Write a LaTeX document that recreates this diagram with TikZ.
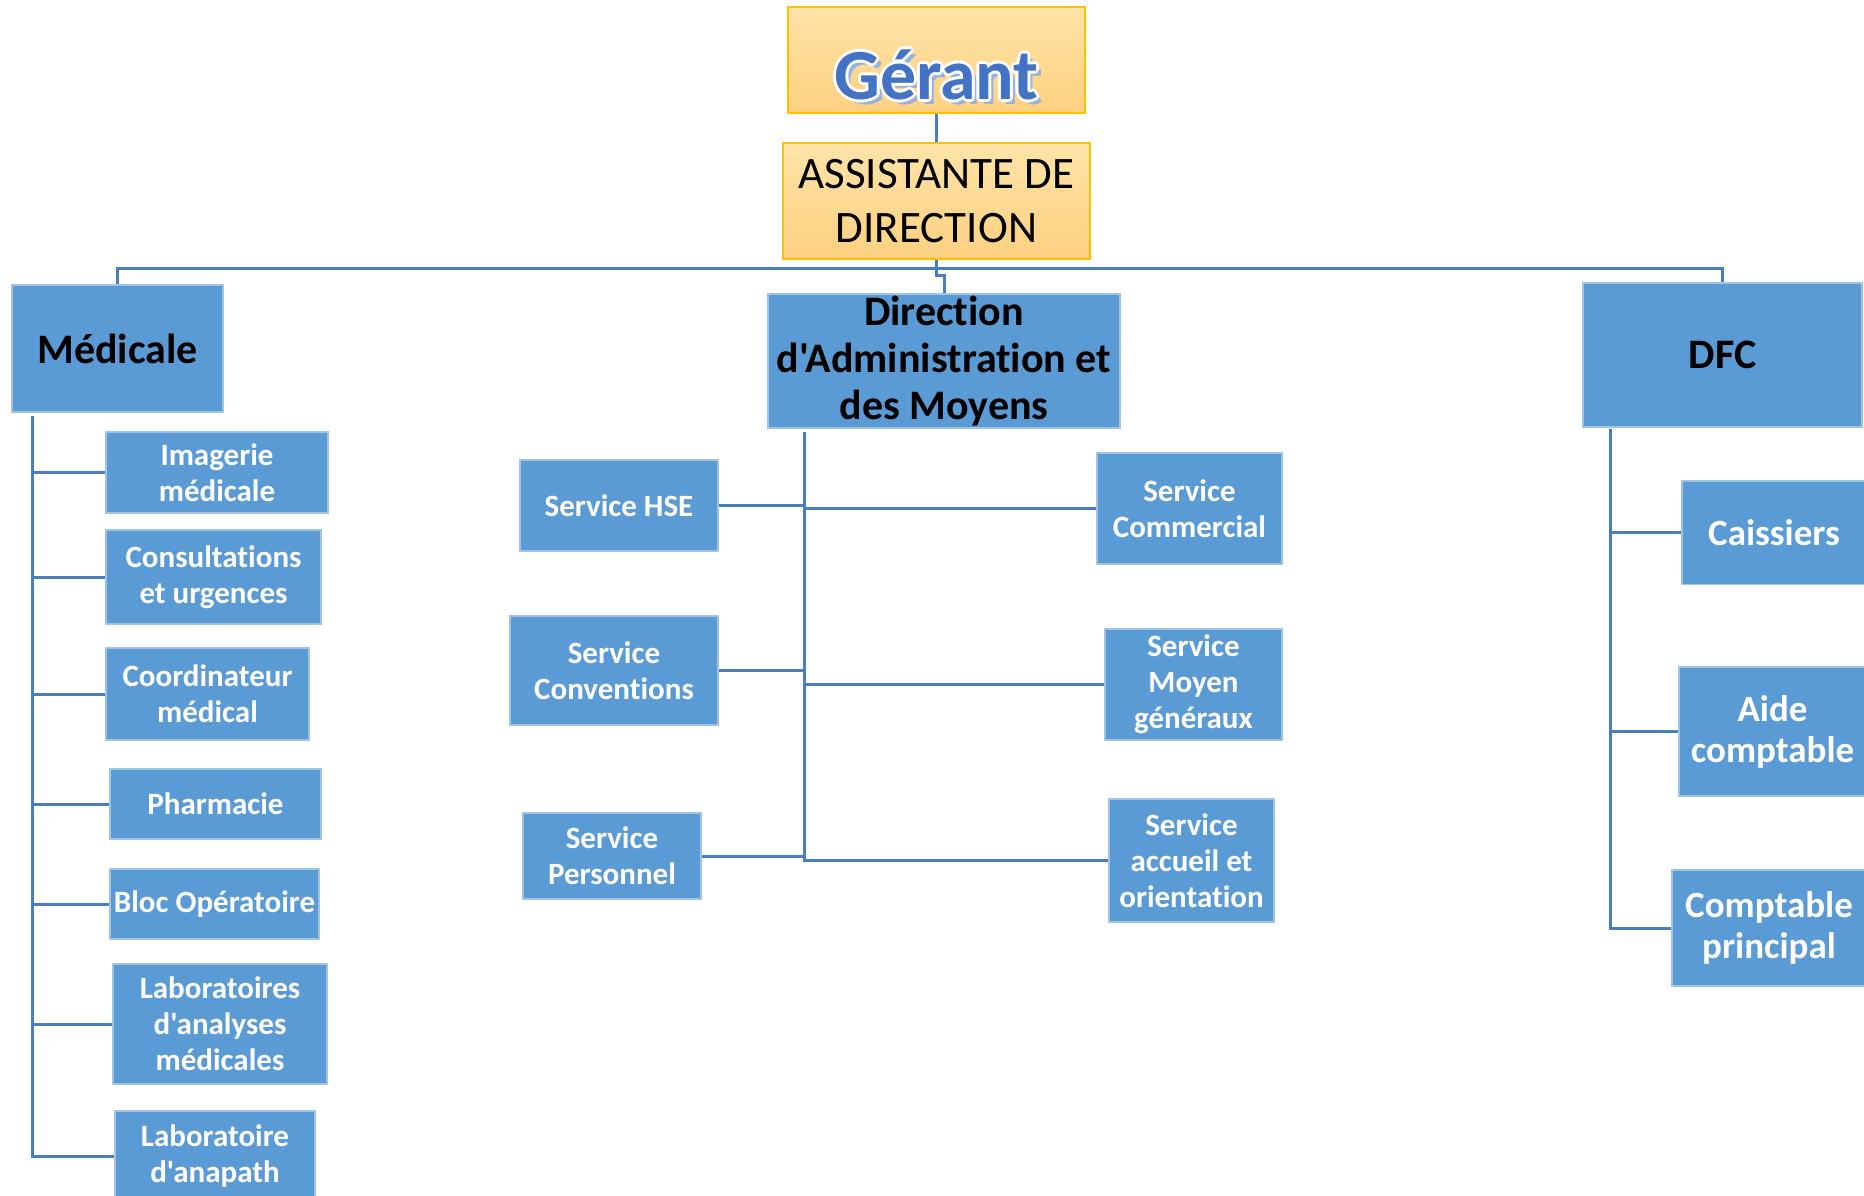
\documentclass[tikz,border=0pt]{standalone}
\usepackage{fontspec}
\setmainfont{Carlito}[Ligatures={TeXOff,CommonOff}]
\definecolor{boxblue}{RGB}{91,155,213}
\definecolor{boxedge}{RGB}{160,196,230}
\definecolor{linec}{RGB}{74,126,187}
\definecolor{orTop}{RGB}{255,228,168}
\definecolor{orBot}{RGB}{253,208,128}
\definecolor{orEdge}{RGB}{255,192,0}
\definecolor{gblue}{RGB}{68,114,196}
\definecolor{shadowblue}{RGB}{150,178,225}
\newcommand\glowtxt[1]{\leavevmode\rlap{\kern5pt\raisebox{-5pt}{\textcolor{shadowblue}{#1}}}%
\rlap{\kern-3pt\textcolor{white}{#1}}\rlap{\kern3pt\textcolor{white}{#1}}%
\rlap{\raisebox{3pt}{\textcolor{white}{#1}}}\rlap{\raisebox{-3pt}{\textcolor{white}{#1}}}%
\rlap{\kern-2pt\raisebox{2pt}{\textcolor{white}{#1}}}\rlap{\kern2pt\raisebox{2pt}{\textcolor{white}{#1}}}%
\rlap{\kern-2pt\raisebox{-2pt}{\textcolor{white}{#1}}}\rlap{\kern2pt\raisebox{-2pt}{\textcolor{white}{#1}}}%
\textcolor{gblue}{#1}}
\begin{document}
\begin{tikzpicture}[x=1pt,y=-1pt,
  bbox/.style={fill=boxblue, draw=boxedge, line width=1.2pt, inner sep=0pt, align=center, text=white, font=\bfseries\fontsize{31}{36}\selectfont},
  mbox/.style={bbox, text=black, font=\bfseries\fontsize{42}{48}\selectfont},
  fbox/.style={bbox, font=\bfseries\fontsize{37}{41}\selectfont},
  obox/.style={top color=orTop, bottom color=orBot, draw=orEdge, line width=1.8pt, inner sep=0pt, align=center},
  conn/.style={draw=linec, line width=3pt}]
\useasboundingbox (0,0) rectangle (1864,1196);
% top
\node[obox, minimum width=297pt, minimum height=106pt] (gerant) at (936.5,60) {};
\node[anchor=base, inner sep=0pt, font=\bfseries\fontsize{72}{84}\selectfont] (gerantlbl) at (936.5,100) {\glowtxt{Gérant}};
\node[obox, minimum width=307pt, minimum height=116pt, font=\fontsize{45}{54}\selectfont] (assist) at (936.5,201) {ASSISTANTE DE\\DIRECTION};
% heads
\node[mbox, minimum width=211pt, minimum height=127pt] (med) at (117.5,348.5) {Médicale};
\node[mbox, minimum width=352pt, minimum height=134pt, font=\bfseries\fontsize{42}{46.6}\selectfont] (dam) at (944,361) {Direction\\d'Administration et\\des Moyens};
\node[mbox, minimum width=279pt, minimum height=144pt] (dfc) at (1722.5,355) {DFC};
% medical children
\node[bbox, minimum width=222pt, minimum height=81pt] (img) at (217,472.5) {Imagerie\\médicale};
\node[bbox, minimum width=215pt, minimum height=94pt] (cons) at (213.5,577) {Consultations\\et urgences};
\node[bbox, minimum width=203pt, minimum height=92pt] (coord) at (207.5,694) {Coordinateur\\médical};
\node[bbox, minimum width=211pt, minimum height=70pt] (pharm) at (215.5,804) {Pharmacie};
\node[bbox, minimum width=209pt, minimum height=70pt] (bloc) at (214.5,904) {Bloc Opératoire};
\node[bbox, minimum width=214pt, minimum height=120pt] (labo) at (220,1024) {Laboratoires\\d'analyses\\médicales};
\node[bbox, minimum width=200pt, minimum height=90pt] (anap) at (215,1156) {Laboratoire\\d'anapath};
% middle children
\node[bbox, minimum width=198pt, minimum height=91pt] (hse) at (619,505.5) {Service HSE};
\node[bbox, minimum width=208pt, minimum height=109pt] (conv) at (614,670.5) {Service\\Conventions};
\node[bbox, minimum width=178pt, minimum height=86pt] (pers) at (612,856) {Service\\Personnel};
\node[bbox, minimum width=185pt, minimum height=111pt] (comm) at (1189.5,508.5) {Service\\Commercial};
\node[bbox, minimum width=177pt, minimum height=111pt] (moy) at (1193.5,684.5) {Service\\Moyen\\généraux};
\node[bbox, minimum width=165pt, minimum height=123pt] (acc) at (1191.5,860.5) {Service\\accueil et\\orientation};
% dfc children
\node[fbox, minimum width=184pt, minimum height=103.5pt] (cais) at (1774,532.75) {Caissiers};
\node[fbox, minimum width=187pt, minimum height=129pt] (aide) at (1772.5,731.5) {Aide\\comptable};
\node[fbox, minimum width=194pt, minimum height=116pt] (compt) at (1769,928) {Comptable\\principal};
% connectors top
\draw[conn] (gerant.south) -- (assist.north);
\coordinate (bj) at (937,275);
\coordinate (bus) at (937,268);
\draw[conn] (assist.south) -- (assist.south |- bj) -- (bj -| dam.north) -- (dam.north);
\draw[conn] (med.north) |- (bus) -| (dfc.north);
% medical trunk
\coordinate (mt) at (32,416);
\foreach \n in {img,cons,coord,pharm,bloc,labo,anap} \draw[conn] (mt) |- (\n.west);
% middle trunk
\coordinate (dt) at (804,432);
\foreach \n in {hse,conv,pers} \draw[conn] (dt) |- (\n.east);
\foreach \n in {comm,moy,acc} \draw[conn] (dt) |- (\n.west);
% dfc trunk
\coordinate (ft) at (1610,429);
\foreach \n in {cais,aide,compt} \draw[conn] (ft) |- (\n.west);
\end{tikzpicture}
\end{document}
